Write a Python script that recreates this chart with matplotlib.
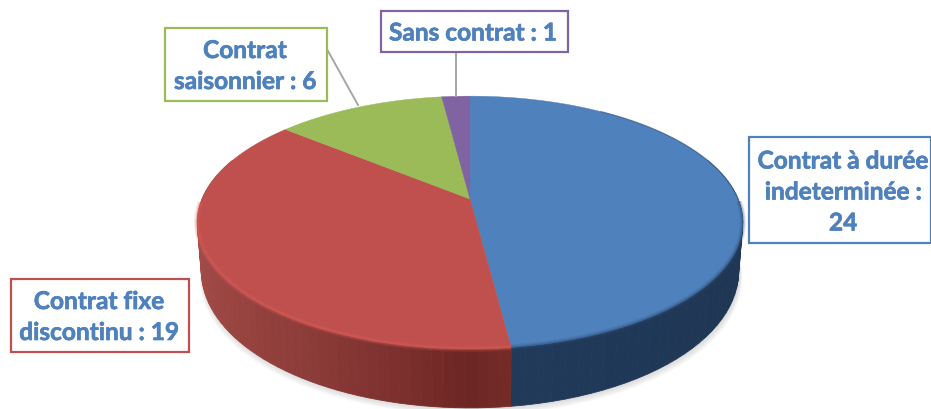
import numpy as np
import matplotlib
matplotlib.use("Agg")
import matplotlib.pyplot as plt
import matplotlib.patheffects as pe

# slices, clockwise from the top of the pie
categories = ["Contrat à durée\nindeterminée :", "Contrat fixe\ndiscontinu :", "Contrat\nsaisonnier :", "Sans contrat :"]
values = [24, 19, 6, 1]
separators = ["\n", " ", " ", " "]
top_colors = ["#4F81BD", "#C0504D", "#9BBB59", "#8064A2"]
rim_colors = ["#2F5078", "#DC5F5B", "#B5D070", "#9A7DBD"]
side_light = ["#1F3654", "#A34B48", "#7A9446", "#5E4A78"]
side_dark = ["#223B5C", "#6B2522", "#5C7033", "#4A3A60"]

# label boxes in pixels: left, top, right, bottom
boxes = [(749, 138, 931, 244), (11, 280, 189, 353), (165, 29, 327, 102), (381, 12, 568, 53)]
text_centres = [(843, 193), (99, 318), (245, 67), (473, 34)]
leaders = [None, None, ((328, 52), (358, 106)), ((456, 53), (456, 97))]

# pie geometry in pixels, the disc is seen in perspective
cx, cy = 470, 200
a, b, p = 268, 122, 0.186
text_blue = "#4F81BD"


def rim(theta):
    u = np.sin(theta)
    v = np.cos(theta)
    k = 1 + p * v
    return cx + a * u / k, cy - b * v / k


def base(theta):
    x, y = rim(theta)
    v = np.cos(theta)
    depth = 46 + 13 * np.clip(-v, 0, 1)
    return cx + (x - cx) * 0.985, y + depth


def mix(c1, c2, t):
    c1 = np.array(matplotlib.colors.to_rgb(c1))
    c2 = np.array(matplotlib.colors.to_rgb(c2))
    return tuple(c1 + (c2 - c1) * t)


fig = plt.figure(figsize=(9.31, 4.10), dpi=100)
ax = fig.add_axes([0, 0, 1, 1])
ax.set_xlim(0, 931)
ax.set_ylim(410, 0)
ax.axis("off")

edges = np.cumsum([0] + values) / sum(values) * 2 * np.pi

# soft shadow under the pie
ring = np.linspace(0, 2 * np.pi, 300)
for i in range(9):
    bx, by = base(ring)
    ax.fill(cx + (bx - cx) * (1 + 0.0012 * i) + 1, by + i * 0.9, color="#808080", alpha=0.035, lw=0, zorder=1)

# outer side of the disc, split into thin strips
for i in range(len(values)):
    th = np.linspace(edges[i], edges[i + 1], 70)
    for j in range(len(th) - 1):
        t0, t1 = th[j], th[j + 1]
        if np.cos((t0 + t1) / 2) > 0.35:
            continue
        x0, y0 = rim(t0)
        x1, y1 = rim(t1)
        x2, y2 = base(t1)
        x3, y3 = base(t0)
        shade = abs(np.sin((t0 + t1) / 2)) ** 0.8
        col = mix(side_dark[i], side_light[i], shade)
        ax.fill([x0, x1, x2, x3], [y0, y1, y2, y3], color=col, lw=0.6, zorder=2)

# top face
for i in range(len(values)):
    th = np.linspace(edges[i], edges[i + 1], 200)
    x, y = rim(th)
    ax.fill(np.r_[cx, x], np.r_[cy, y], color=top_colors[i], lw=0.3, zorder=3)

# soft bevel along the front of the top face
for i in range(len(values)):
    th = np.linspace(edges[i], edges[i + 1], 200)
    th = th[np.cos(th) < -0.02]
    if len(th) < 2:
        continue
    x, y = rim(th)
    for lw, alpha in [(4.5, 0.12), (3, 0.2), (1.6, 0.3)]:
        ax.plot(x, y, color=rim_colors[i], lw=lw, alpha=alpha, zorder=4, solid_capstyle="butt")

# dark thin edge on the back right of the blue slice
th = np.linspace(0.6, 1.6, 100)
x, y = rim(th)
ax.plot(x, y, color="#2F4F75", lw=1.0, alpha=0.5, zorder=4)

# leader lines
for line in leaders:
    if line is not None:
        ax.plot([line[0][0], line[1][0]], [line[0][1], line[1][1]], color="#A6A6A6", lw=1.4, zorder=5)

# label boxes
for i in range(len(values)):
    l, t, r, bt = boxes[i]
    ax.fill([l, r, r, l, l], [t, t, bt, bt, t], facecolor="white", edgecolor=top_colors[i], lw=1.6,
            zorder=6, clip_on=True)
    label = categories[i] + separators[i] + str(values[i])
    txt = ax.text(text_centres[i][0], text_centres[i][1], label, color=text_blue, fontsize=17.6, fontweight="bold",
                  family="Lato", ha="center", va="center", multialignment="center", linespacing=1.42, zorder=7)
    txt.set_path_effects([pe.withStroke(linewidth=0.5, foreground=text_blue)])

fig.savefig("out.png", dpi=100)
